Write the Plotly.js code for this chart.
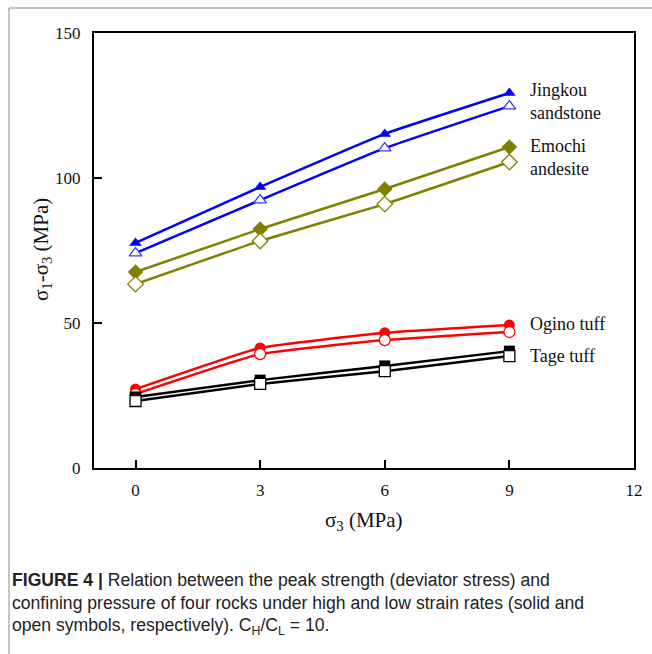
<!DOCTYPE html>
<html><head><meta charset="utf-8">
<script src="https://cdn.plot.ly/plotly-3.0.1.min.js"></script>
<style>body{margin:0;background:#fff}#c{width:652px;height:654px}</style>
</head><body><div id="c"></div>
<script>
const sigma3 = [0, 3, 6, 9];
const jingkouHigh = [77.6, 96.9, 115.2, 129.3];
const jingkouLow  = [74.1, 92.4, 110.3, 124.8];
const emochiHigh  = [67.6, 82.4, 96.2, 110.7];
const emochiLow   = [63.4, 78.3, 91.0, 105.5];
const oginoHigh   = [27.2, 41.4, 46.6, 49.3];
const oginoLow    = [25.5, 39.3, 44.1, 46.9];
const tageHigh    = [24.5, 30.3, 35.2, 40.3];
const tageLow     = [23.1, 29.0, 33.4, 38.6];
const xTicks = [0, 3, 6, 9, 12];
const yTicks = [0, 50, 100, 150];
const rockLabels = ["Jingkou<br>sandstone", "Emochi<br>andesite", "Ogino tuff", "Tage tuff"];
const labelY = [126.5, 107, 49.5, 38.5];

function tr(y, color, sym, open, lineColor){
  return {x: sigma3, y: y, mode: 'lines+markers', type: 'scatter',
    line: {color: lineColor || color, width: 2.5, shape: 'spline', smoothing: 0.35},
    marker: {symbol: sym, size: sym==='diamond'?12:11, color: open ? '#ffffff' : color,
      line: {color: color, width: open ? 1.3 : 0}},
    showlegend: false, hoverinfo: 'skip'};
}
const data = [
  tr(jingkouHigh, '#0000ff', 'triangle-up', false),
  tr(jingkouLow, '#3a3aff', 'triangle-up', true, '#0000ff'),
  tr(emochiHigh, '#808000', 'diamond', false),
  tr(emochiLow, '#808000', 'diamond', true),
  tr(oginoHigh, '#ff0000', 'circle', false),
  tr(oginoLow, '#ff0000', 'circle', true),
  tr(tageHigh, '#000000', 'square', false),
  tr(tageLow, '#000000', 'square', true)
];
const serif = 'Liberation Serif, Times New Roman, serif';
const sans = 'Liberation Sans, Arial, sans-serif';
const L = 94, T = 33, W = 540, H = 435;
function px(x){ return (x - L)/W; }
function py(y){ return (T + H - y)/H; }
const ann = rockLabels.map((t,i)=>({x: 9.45, y: labelY[i], xref:'x', yref:'y', text: t, showarrow:false,
  xanchor:'left', yanchor:'middle', align:'left', font:{family: serif, size:18, color:'#111'}}));
const caption = [
  '<b>FIGURE 4 |</b> Relation between the peak strength (deviator stress) and',
  'confining pressure of four rocks under high and low strain rates (solid and',
  'open symbols, respectively). C<sub>H</sub>/C<sub>L</sub> = 10.'
];
caption.forEach((t,i)=>ann.push({x: px(10), y: py(580 + 23*i), xref:'paper', yref:'paper', text:t,
  showarrow:false, xanchor:'left', yanchor:'middle', align:'left', font:{family: sans, size:17.6, color:'#222'}}));
ann.push({x: px(42), y: py(250), xref:'paper', yref:'paper', text:'σ<sub>1</sub>-σ<sub>3</sub> (MPa)', textangle:-90,
  showarrow:false, xanchor:'center', yanchor:'middle', font:{family: serif, size:21, color:'#111'}});
ann.push({x: px(364), y: py(521), xref:'paper', yref:'paper', text:'σ<sub>3</sub> (MPa)',
  showarrow:false, xanchor:'center', yanchor:'middle', font:{family: serif, size:21, color:'#111'}});
const layout = {
  width: 652, height: 654,
  margin: {l: L, r: 652 - L - W, t: T, b: 654 - T - H},
  paper_bgcolor: '#fff', plot_bgcolor: '#fff',
  xaxis: {range: [-1, 12], tickvals: xTicks, ticks: 'inside', ticklen: 8, tickwidth: 2, tickcolor:'#000',
    showline: true, mirror: true, linewidth: 2, linecolor: '#000', showgrid: false, zeroline: false,
    tickfont: {family: serif, size: 17, color: '#111'}, ticklabelstandoff: 6},
  yaxis: {range: [0, 150], tickvals: yTicks, ticks: 'inside', ticklen: 8, tickwidth: 2, tickcolor:'#000',
    showline: true, mirror: true, linewidth: 2, linecolor: '#000', showgrid: false, zeroline: false,
    tickfont: {family: serif, size: 17, color: '#111'}, ticklabelstandoff: 8},
  annotations: ann,
  shapes: [
    {type:'line', xref:'paper', yref:'paper', x0: px(9), x1: px(9), y0: py(8), y1: py(654), line:{color:'#888', width:1}},
    {type:'line', xref:'paper', yref:'paper', x0: px(9), x1: px(652), y0: py(8), y1: py(8), line:{color:'#888', width:1}}
  ]
};
Plotly.newPlot('c', data, layout, {displayModeBar: false, staticPlot: true});
</script></body></html>
